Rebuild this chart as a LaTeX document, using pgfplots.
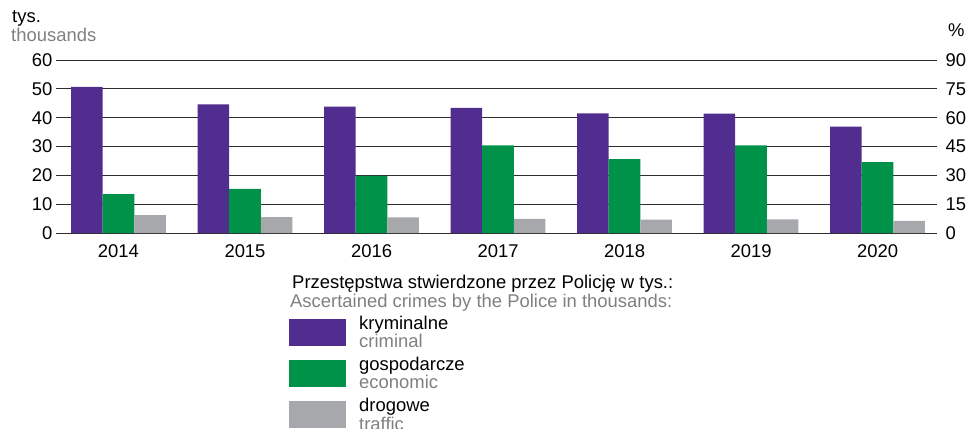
\documentclass[border=0pt]{standalone}
\usepackage{fontspec}
\setmainfont{Liberation Sans}
\usepackage{pgfplots}
\pgfplotsset{compat=1.18}
\definecolor{cpurple}{RGB}{81,45,143}
\definecolor{cgreen}{RGB}{0,146,72}
\definecolor{cgray}{RGB}{167,168,171}
\definecolor{tgray}{RGB}{128,128,128}
\definecolor{gridc}{RGB}{45,45,45}
\newcommand{\fs}{\fontsize{18.5}{19}\selectfont}
\newcommand{\fl}{\fontsize{18.5}{17}\selectfont}
\begin{document}
\begin{tikzpicture}
\useasboundingbox (-56bp,-196bp) rectangle (911bp,233bp);
\begin{axis}[
  at={(0,0)}, anchor=south west,
  scale only axis, width=881bp, height=173bp,
  xmin=-0.494, xmax=6.47, ymin=0, ymax=60,
  ybar=0pt, bar width=0.25,
  xtick={0,1,2,3,4,5,6},
  xticklabels={2014,2015,2016,2017,2018,2019,2020},
  ytick={0,10,20,30,40,50,60},
  ymajorgrids, major grid style={draw=gridc, line width=1bp},
  axis x line*=bottom, axis y line*=left,
  axis line style={draw=none},
  major tick length=0pt,
  tick label style={font=\fs},
  /pgf/number format/assume math mode=true,
  xticklabel style={yshift=-8bp},
  legend style={at={(axis description cs:0.2645,-0.481)}, anchor=north west,
    draw=none, fill=none, inner sep=0pt, row sep=8bp, column sep=13bp,
    font=\fl, nodes={inner sep=0pt, align=left}},
  legend cell align=left,
  clip=false,
]
\addplot[fill=cpurple, draw=none, legend image code/.code={\fill[cpurple] (0bp,-13.5bp) rectangle (57bp,13.5bp);}]
  coordinates {(0,50.7) (1,44.6) (2,43.8) (3,43.4) (4,41.5) (5,41.4) (6,36.9)};
\addlegendentry{kryminalne\\\textcolor{tgray}{criminal}}
\addplot[fill=cgreen, draw=none, legend image code/.code={\fill[cgreen] (0bp,-13.5bp) rectangle (57bp,13.5bp);}]
  coordinates {(0,13.5) (1,15.3) (2,19.8) (3,30.4) (4,25.6) (5,30.4) (6,24.6)};
\addlegendentry{gospodarcze\\\textcolor{tgray}{economic}}
\addplot[fill=cgray, draw=none, legend image code/.code={\fill[cgray] (0bp,-13.5bp) rectangle (57bp,13.5bp);}]
  coordinates {(0,6.2) (1,5.5) (2,5.4) (3,4.9) (4,4.6) (5,4.7) (6,4.2)};
\addlegendentry{drogowe\\\textcolor{tgray}{traffic}}
\node[anchor=base west, font=\fs, inner sep=0pt] at (axis description cs:-0.0499,1.214) {tys.};
\node[anchor=base west, font=\fs, inner sep=0pt, text=tgray] at (axis description cs:-0.0511,1.107) {thousands};
\node[anchor=base west, font=\fs, inner sep=0pt] at (axis description cs:1.0125,1.133) {\%};
\node[anchor=base west, font=\fs, inner sep=0pt] at (axis description cs:0.2679,-0.318) {Przestępstwa stwierdzone przez Policję w tys.:};
\node[anchor=base west, font=\fs, inner sep=0pt, text=tgray] at (axis description cs:0.2656,-0.4335) {Ascertained crimes by the Police in thousands:};
\end{axis}
\begin{axis}[
  at={(0,0)}, anchor=south west,
  scale only axis, width=881bp, height=173bp,
  xmin=0, xmax=1, ymin=0, ymax=90,
  ytick={0,15,30,45,60,75,90},
  axis x line=none, axis y line*=right,
  y axis line style={draw=none},
  major tick length=0pt,
  tick label style={font=\fs},
  /pgf/number format/assume math mode=true,
  yticklabel style={xshift=5bp},
]
\end{axis}
\end{tikzpicture}
\end{document}
